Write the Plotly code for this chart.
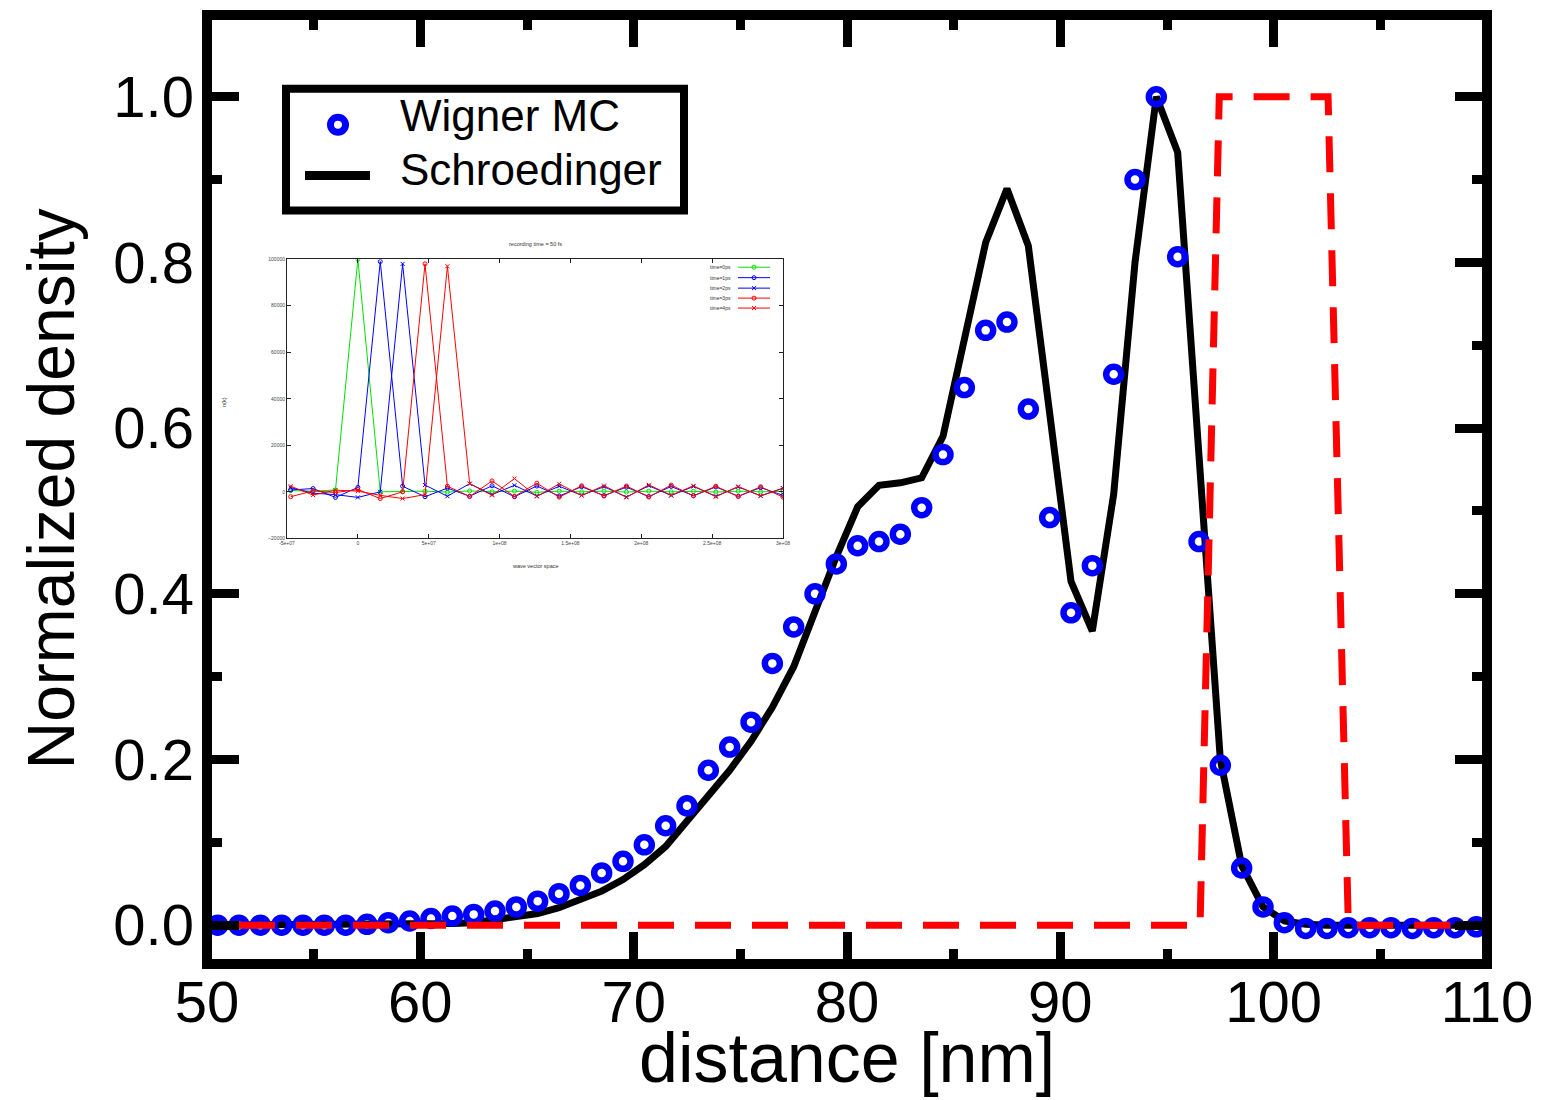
import plotly.graph_objects as go

W, H = 1546, 1100
L, R, T, B = 207, 1487, 12, 964  # plot-area pixel edges (frame line centres)


def px(x, y):
    return (x - L) / (R - L), (B - y) / (B - T)


def pxx(x):
    return (x - L) / (R - L)


def pxy(y):
    return (B - y) / (B - T)


FONT = "Liberation Sans, Arial, sans-serif"

# ---------------- main data ----------------
x_nm = [50.5, 51.5, 52.5, 53.5, 54.5, 55.5, 56.5, 57.5, 58.5, 59.5,
        60.5, 61.5, 62.5, 63.5, 64.5, 65.5, 66.5, 67.5, 68.5, 69.5,
        70.5, 71.5, 72.5, 73.5, 74.5, 75.5, 76.5, 77.5, 78.5, 79.5,
        80.5, 81.5, 82.5, 83.5, 84.5, 85.5, 86.5, 87.5, 88.5, 89.5,
        90.5, 91.5, 92.5, 93.5, 94.5, 95.5, 96.5, 97.5, 98.5, 99.5,
        100.5, 101.5, 102.5, 103.5, 104.5, 105.5, 106.5, 107.5, 108.5, 109.5]

wigner_mc = [0.000, 0.000, 0.000, 0.000, 0.000, 0.000, 0.000, 0.001, 0.003, 0.005,
             0.008, 0.011, 0.013, 0.017, 0.022, 0.029, 0.038, 0.048, 0.063, 0.077,
             0.097, 0.120, 0.144, 0.187, 0.215, 0.245, 0.316, 0.360, 0.400, 0.436,
             0.458, 0.463, 0.472, 0.504, 0.568, 0.649, 0.718, 0.728, 0.623, 0.492,
             0.377, 0.434, 0.665, 0.900, 1.000, 0.807, 0.463, 0.193, 0.069, 0.022,
             0.003, -0.004, -0.004, -0.003, -0.003, -0.003, -0.004, -0.003, -0.003, -0.002]

schr_x = [50.0] + x_nm + [110.0]
schr_y = [0.0,
          0.000, 0.000, 0.000, 0.000, 0.000, 0.000, 0.000, 0.000, 0.000, 0.000,
          0.001, 0.002, 0.003, 0.006, 0.009, 0.014, 0.021, 0.030, 0.041, 0.055,
          0.073, 0.095, 0.125, 0.155, 0.187, 0.222, 0.263, 0.312, 0.378, 0.445,
          0.505, 0.531, 0.534, 0.540, 0.590, 0.705, 0.824, 0.889, 0.820, 0.618,
          0.415, 0.355, 0.520, 0.800, 1.000, 0.933, 0.560, 0.200, 0.072, 0.022,
          0.005, 0.001, 0.000, 0.000, 0.000, 0.000, 0.000, 0.000, 0.000, 0.000,
          0.0]

barrier_x = [51.5, 96.55, 97.45, 102.55, 103.5, 108.6]
barrier_y = [0.0, 0.0, 1.0, 1.0, 0.0, 0.0]

x_ticks = [50, 60, 70, 80, 90, 100, 110]
y_ticks = [0.0, 0.2, 0.4, 0.6, 0.8, 1.0]

# ---------------- inset data ----------------
k_space = [-4.74e7, -3.16e7, -1.58e7, 0.0, 1.58e7, 3.16e7, 4.74e7, 6.32e7, 7.89e7,
           9.47e7, 1.105e8, 1.263e8, 1.421e8, 1.579e8, 1.737e8, 1.895e8, 2.053e8,
           2.211e8, 2.368e8, 2.526e8, 2.684e8, 2.842e8, 3.0e8]
n_t0 = [500, 300, 800, 100000, 0, 100, 300, -100, 400, 0, 300, -200, 300, 0, 300,
        -100, 300, 0, 200, -100, 300, 0, 200]
n_t1 = [800, 1400, -2400, 1900, 99000, 2400, -2100, 1600, -1900, 2600, -2100, 2500,
        -1800, 2200, -1600, 2000, -2000, 2300, -1700, 2100, -1900, 1800, -1500]
n_t2 = [1800, -600, -1200, -2400, 0, 98000, 2900, -1900, 3500, -1200, 2800, -1800,
        2400, -1500, 2200, -2200, 2600, -1600, 2300, -1900, 2100, -1700, 1600]
n_t3 = [-2100, 400, -300, 1000, -2900, 0, 98000, 2400, -2000, 4700, -2000, 3700,
        -2300, 2600, -1800, 2500, -2200, 2900, -1700, 2400, -2000, 2200, -2300]
n_t4 = [2400, -1400, 700, 300, -1500, -2900, -1200, 97000, 3500, -1500, 5700, -2000,
        3400, -1600, 2700, -2400, 3000, -1500, 2600, -2100, 2300, -1800, 1500]

inset_series = [
    ("time=0ps", n_t0, "#00e000", "circle-open"),
    ("time=1ps", n_t1, "#0000ff", "circle-open"),
    ("time=2ps", n_t2, "#0000ff", "x-thin-open"),
    ("time=3ps", n_t3, "#ff0000", "circle-open"),
    ("time=4ps", n_t4, "#ff0000", "x-thin-open"),
]
inset_xticks = [-5e7, 0, 5e7, 1e8, 1.5e8, 2e8, 2.5e8, 3e8]
inset_xtext = ["-5e+07", "0", "5e+07", "1e+08", "1.5e+08", "2e+08", "2.5e+08", "3e+08"]
inset_yticks = [-20000, 0, 20000, 40000, 60000, 80000, 100000]

fig = go.Figure()

# main traces
fig.add_trace(go.Scatter(x=schr_x, y=schr_y, mode="lines",
                         line=dict(color="black", width=7), name="Schroedinger",
                         showlegend=False, xaxis="x", yaxis="y"))
fig.add_trace(go.Scatter(x=x_nm, y=wigner_mc, mode="markers",
                         marker=dict(symbol="circle-open", size=15, color="#0000ff",
                                     line=dict(width=6.5, color="#0000ff")),
                         name="Wigner MC", showlegend=False, xaxis="x", yaxis="y"))
fig.add_trace(go.Scatter(x=barrier_x, y=barrier_y, mode="lines",
                         line=dict(color="#ff0000", width=7, dash="36px,21px"),
                         showlegend=False, xaxis="x", yaxis="y"))

# inset white background (own subplot, drawn above main subplot)
fig.add_trace(go.Scatter(x=[0, 1, 1, 0, 0], y=[0, 0, 1, 1, 0], fill="toself",
                         fillcolor="white", mode="none", hoverinfo="skip",
                         showlegend=False, xaxis="x2", yaxis="y2"))

# inset traces
for name, vals, col, sym in inset_series:
    fig.add_trace(go.Scatter(x=k_space, y=vals, mode="lines+markers", name=name,
                             line=dict(color=col, width=1),
                             marker=dict(symbol=sym, size=4, color=col,
                                         line=dict(width=1, color=col)),
                             showlegend=False, xaxis="x3", yaxis="y3"))

tickfont = dict(family=FONT, size=58, color="black")
fig.update_layout(
    width=W, height=H,
    margin=dict(l=L, r=W - R, t=T, b=H - B, pad=0),
    paper_bgcolor="white", plot_bgcolor="white",
    showlegend=False,
    xaxis=dict(domain=[0, 1], range=[50, 110], anchor="y",
               tickvals=x_ticks, ticks="inside", ticklen=32, tickwidth=9,
               tickcolor="black", mirror="allticks", showline=False,
               showgrid=False, zeroline=False, tickfont=tickfont,
               minor=dict(dtick=5, tick0=50, ticks="inside", ticklen=15,
                          tickwidth=9, tickcolor="black", showgrid=False),
               ticklabelstandoff=-1),
    yaxis=dict(domain=[0, 1], range=[-0.0469, 1.0987], anchor="x",
               tickvals=y_ticks, tickformat=".1f", ticks="inside", ticklen=32,
               tickwidth=9, tickcolor="black", mirror="allticks", showline=False,
               showgrid=False, zeroline=False, tickfont=tickfont,
               minor=dict(dtick=0.1, tick0=0, ticks="inside", ticklen=15,
                          tickwidth=9, tickcolor="black", showgrid=False),
               ticklabelstandoff=12),
    xaxis2=dict(domain=[pxx(212), pxx(796)], range=[0, 1], anchor="y2",
                visible=False, fixedrange=True),
    yaxis2=dict(domain=[pxy(573), pxy(234)], range=[0, 1], anchor="x2",
                visible=False, fixedrange=True),
    xaxis3=dict(domain=[pxx(287), pxx(783)], range=[-5e7, 3e8], anchor="y3",
                tickvals=inset_xticks, ticktext=inset_xtext, ticks="inside",
                ticklen=4, tickwidth=1, tickcolor="#222", showline=True,
                linewidth=1, linecolor="#222", mirror="allticks", showgrid=False,
                zeroline=False, tickfont=dict(family=FONT, size=5, color="#444")),
    yaxis3=dict(domain=[pxy(537), pxy(257)], range=[-20000, 100000], anchor="x3",
                tickvals=inset_yticks, tickformat="d", ticks="inside",
                ticklen=4, tickwidth=1, tickcolor="#222", showline=True,
                linewidth=1, linecolor="#222", mirror="allticks", showgrid=False,
                zeroline=False, tickfont=dict(family=FONT, size=5, color="#444")),
)

shapes = []
annotations = []

# frame
shapes.append(dict(type="rect", xref="paper", yref="paper", x0=0, y0=0, x1=1, y1=1,
                   line=dict(color="black", width=10), layer="above"))

# main legend box
lx0, ly0 = px(286, 208)
lx1, ly1 = px(684, 86)
shapes.append(dict(type="rect", xref="paper", yref="paper", x0=lx0, y0=ly0, x1=lx1,
                   y1=ly1, line=dict(color="black", width=8), fillcolor="white",
                   layer="above"))
a0, b0 = px(305, 173)
a1, b1 = px(370, 173)
shapes.append(dict(type="line", xref="paper", yref="paper", x0=a0, y0=b0, x1=a1,
                   y1=b1, line=dict(color="black", width=9), layer="above"))
c0, d0 = px(330.5, 129.5)
c1, d1 = px(345.5, 114.5)
shapes.append(dict(type="circle", xref="paper", yref="paper", x0=c0, y0=d0, x1=c1,
                   y1=d1, line=dict(color="#0000ff", width=7), layer="above"))
annotations.append(dict(text="Wigner MC", xref="paper", yref="paper",
                        x=pxx(398), y=pxy(113), xanchor="left", yanchor="middle",
                        showarrow=False, font=dict(family=FONT, size=44, color="black")))
annotations.append(dict(text="Schroedinger", xref="paper", yref="paper",
                        x=pxx(398), y=pxy(167), xanchor="left", yanchor="middle",
                        showarrow=False, font=dict(family=FONT, size=44, color="black")))

# axis titles
annotations.append(dict(text="distance [nm]", xref="paper", yref="paper",
                        x=pxx(847), y=pxy(1058), xanchor="center", yanchor="middle",
                        showarrow=False, font=dict(family=FONT, size=70, color="black")))
annotations.append(dict(text="Normalized density", xref="paper", yref="paper",
                        x=pxx(50), y=pxy(488), xanchor="center", yanchor="middle",
                        textangle=-90, showarrow=False,
                        font=dict(family=FONT, size=66, color="black")))

# inset texts
small = dict(family=FONT, size=5.5, color="#333")
annotations.append(dict(text="recording time = 50 fs", xref="paper", yref="paper",
                        x=pxx(535), y=pxy(242), xanchor="center", yanchor="middle",
                        showarrow=False, font=small))
annotations.append(dict(text="wave vector space", xref="paper", yref="paper",
                        x=pxx(535), y=pxy(565), xanchor="center", yanchor="middle",
                        showarrow=False, font=small))
annotations.append(dict(text="n(k)", xref="paper", yref="paper",
                        x=pxx(224), y=pxy(400), xanchor="center", yanchor="middle",
                        textangle=-90, showarrow=False, font=small))

# inset legend
rows = [265, 275.5, 286, 296, 306]
for (name, vals, col, sym), ry in zip(inset_series, rows):
    annotations.append(dict(text=name, xref="paper", yref="paper", x=pxx(733),
                            y=pxy(ry), xanchor="right", yanchor="middle",
                            showarrow=False, font=dict(family=FONT, size=5, color="#333")))
    e0, f0 = px(738, ry)
    e1, f1 = px(770, ry)
    shapes.append(dict(type="line", xref="paper", yref="paper", x0=e0, y0=f0, x1=e1,
                       y1=f1, line=dict(color=col, width=1), layer="above"))
    if sym == "circle-open":
        g0, h0 = px(752, ry + 2)
        g1, h1 = px(756, ry - 2)
        shapes.append(dict(type="circle", xref="paper", yref="paper", x0=g0, y0=h0,
                           x1=g1, y1=h1, line=dict(color=col, width=1), layer="above"))
    else:
        for sx in (1, -1):
            g0, h0 = px(752, ry + 2 * sx)
            g1, h1 = px(756, ry - 2 * sx)
            shapes.append(dict(type="line", xref="paper", yref="paper", x0=g0, y0=h0,
                               x1=g1, y1=h1, line=dict(color=col, width=1),
                               layer="above"))

fig.update_layout(shapes=shapes, annotations=annotations)
fig.write_html("out.html")
